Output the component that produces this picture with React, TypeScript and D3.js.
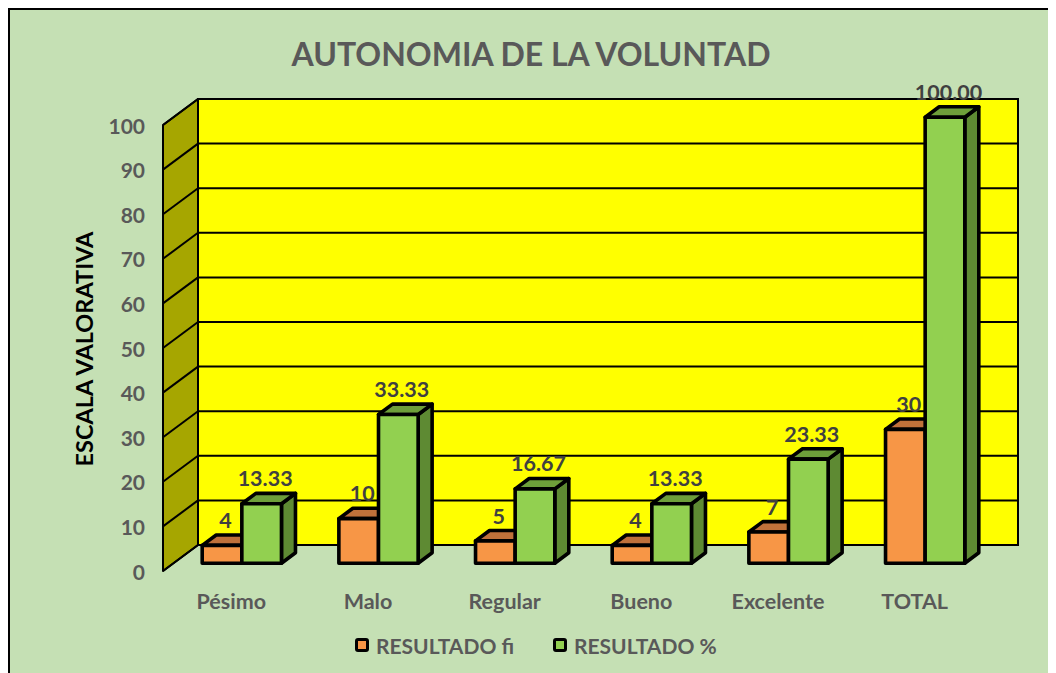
import React from "react";
import * as d3 from "d3";

const categories = ["Pésimo", "Malo", "Regular", "Bueno", "Excelente", "TOTAL"];
const seriesNames = ["RESULTADO fi", "RESULTADO %"];
const valuesFi = [4, 10, 5, 4, 7, 30];
const valuesPct = [13.33, 33.33, 16.67, 13.33, 23.33, 100.0];
const labelsFi = ["4", "10", "5", "4", "7", "30"];
const labelsPct = ["13.33", "33.33", "16.67", "13.33", "23.33", "100.00"];
const yTicks = [0, 10, 20, 30, 40, 50, 60, 70, 80, 90, 100];

const W = 1048;
const H = 665;
const FONT = "Lato, 'Open Sans', sans-serif";
const GREY = "#595959";

// oblique depth projection (full depth)
const DX = 35;
const DY = 26;
const D0 = 0.3;
const D1 = 0.7;

const seriesColors = [
  { front: "#F79646", top: "#C0713A", side: "#B8652E" },
  { front: "#92D050", top: "#6E9F3A", side: "#5E8A33" },
];

export default function App() {
  // coordinates inside svg (svg placed at page 8,8)
  const ox = -8;
  const oy = -8;
  const x = d3
    .scaleBand<string>()
    .domain(categories)
    .range([163 + ox, 983 + ox])
    .paddingInner(0.42)
    .paddingOuter(0.21);
  const y = d3.scaleLinear().domain([0, 100]).range([571 + oy, 125 + oy]);
  const inner = d3
    .scaleBand<number>()
    .domain([0, 1])
    .range([0, x.bandwidth()]);

  const P = (px: number, v: number, d: number): [number, number] => [px + d * DX, y(v) - d * DY];
  const poly = (pts: [number, number][]) => pts.map((p) => p.join(",")).join(" ");

  const x0 = x.range()[0];
  const x1 = x.range()[1];

  const bars: JSX.Element[] = [];
  const labels: JSX.Element[] = [];
  categories.forEach((c, i) => {
    [valuesFi, valuesPct].forEach((vals, s) => {
      const v = vals[i];
      const l = (x(c) as number) + (inner(s) as number);
      const r = l + inner.bandwidth();
      const col = seriesColors[s];
      const front = poly([P(l, 0, D0), P(r, 0, D0), P(r, v, D0), P(l, v, D0)]);
      const top = poly([P(l, v, D0), P(r, v, D0), P(r, v, D1), P(l, v, D1)]);
      const side = poly([P(r, 0, D0), P(r, 0, D1), P(r, v, D1), P(r, v, D0)]);
      bars.push(
        <g key={`${c}-${s}`} stroke="#000" strokeWidth={3.6} strokeLinejoin="round">
          <polygon points={side} fill={col.side} />
          <polygon points={top} fill={col.top} />
          <polygon points={front} fill={col.front} />
        </g>
      );
      const lp = P((l + r) / 2, v, 0.4);
      const lt = P(0, v, D1);
      labels.push(
        <text
          key={`lab-${c}-${s}`}
          x={lp[0]}
          y={lt[1] - 15}
          textAnchor="middle"
          dominantBaseline="central"
          fontFamily={FONT}
          fontWeight="bold"
          fontSize={21.5}
          fill="#404040"
        >
          {s === 0 ? labelsFi[i] : labelsPct[i]}
        </text>
      );
    });
  });

  return (
    <svg width={W} height={H} style={{ display: "block", overflow: "hidden" }}>
      <rect x={1} y={1} width={W - 4} height={H + 20} fill="#C5E0B4" stroke="#000" strokeWidth={2} />
      <text
        x={531 + ox}
        y={53 + oy}
        textAnchor="middle"
        dominantBaseline="central"
        fontFamily={FONT}
        fontWeight="bold"
        fontSize={32}
        fill={GREY}
      >
        AUTONOMIA DE LA VOLUNTAD
      </text>

      {/* back wall */}
      <polygon
        points={poly([P(x0, 0, 1), P(x1, 0, 1), P(x1, 100, 1), P(x0, 100, 1)])}
        fill="#FFFF00"
        stroke="#000"
        strokeWidth={2}
      />
      {/* side wall */}
      <polygon
        points={poly([P(x0, 0, 0), P(x0, 0, 1), P(x0, 100, 1), P(x0, 100, 0)])}
        fill="#A6A600"
        stroke="#000"
        strokeWidth={2}
        strokeLinejoin="round"
      />
      {yTicks.map((t) => (
        <g key={`g${t}`} stroke="#000" strokeWidth={2}>
          <line x1={P(x0, t, 1)[0]} y1={P(x0, t, 1)[1]} x2={P(x1, t, 1)[0]} y2={P(x1, t, 1)[1]} />
          <line x1={P(x0, t, 0)[0]} y1={P(x0, t, 0)[1]} x2={P(x0, t, 1)[0]} y2={P(x0, t, 1)[1]} />
        </g>
      ))}
      {yTicks.map((t) => (
        <text
          key={`t${t}`}
          x={145 + ox}
          y={y(t)}
          textAnchor="end"
          dominantBaseline="central"
          fontFamily={FONT}
          fontWeight="bold"
          fontSize={21}
          fill={GREY}
        >
          {t}
        </text>
      ))}
      <text
        transform={`translate(${84 + ox},${349 + oy}) rotate(-90)`}
        textAnchor="middle"
        dominantBaseline="central"
        fontFamily={FONT}
        fontWeight="bold"
        fontSize={23.5}
        fill="#000"
      >
        ESCALA VALORATIVA
      </text>

      {bars}
      {labels}

      {categories.map((c) => (
        <text
          key={`c${c}`}
          x={(x(c) as number) + x.bandwidth() / 2}
          y={601 + oy}
          textAnchor="middle"
          dominantBaseline="central"
          fontFamily={FONT}
          fontWeight="bold"
          fontSize={21.5}
          fill={GREY}
        >
          {c}
        </text>
      ))}

      {seriesNames.map((n, s) => {
        const cx = (s === 0 ? 362 : 560) + ox;
        const cy = 645 + oy;
        return (
          <g key={`leg${s}`}>
            <rect x={cx - 5.5} y={cy - 5.5} width={11} height={11} rx={1.5} fill={seriesColors[s].front} stroke="#000" strokeWidth={3} />
            <text
              x={cx + 14}
              y={cy}
              dominantBaseline="central"
              fontFamily={FONT}
              fontWeight="bold"
              fontSize={21}
              fill={GREY}
            >
              {n}
            </text>
          </g>
        );
      })}
    </svg>
  );
}
